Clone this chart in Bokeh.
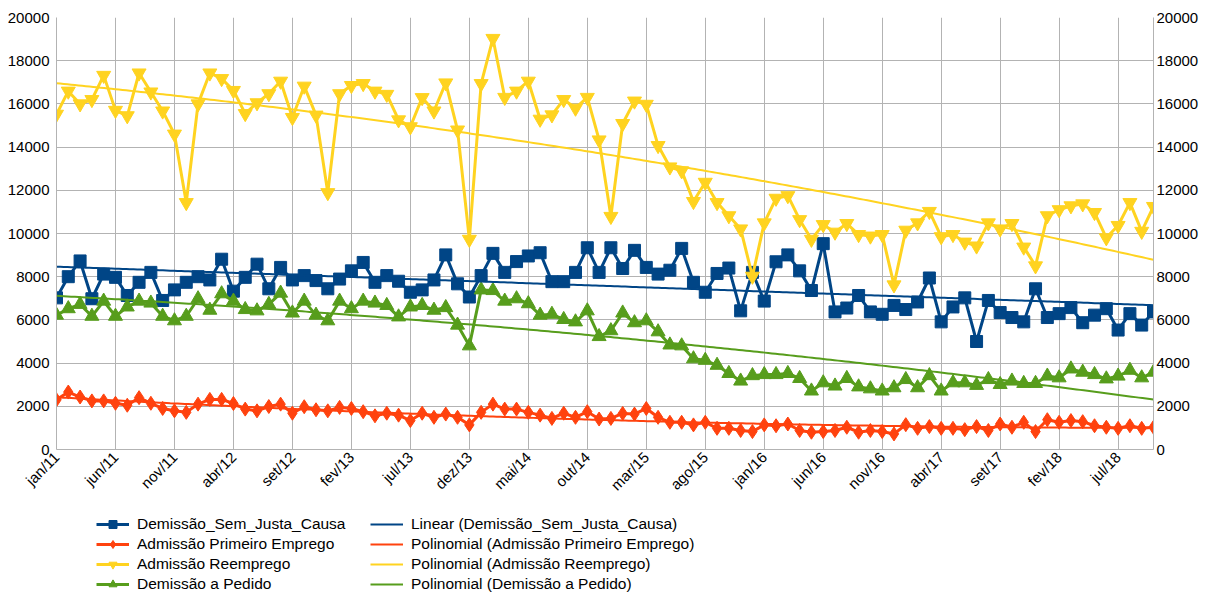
import math
import numpy as np
from bokeh.plotting import figure
from bokeh.layouts import column
from bokeh.models import Range1d, LinearAxis, FixedTicker, Legend, LegendItem
from bokeh.embed import file_html
from bokeh.resources import INLINE

# ---------------- data ----------------
tick_idx = [0, 5, 10, 15, 20, 25, 30, 35, 40, 45, 50, 55, 60, 65, 70, 75, 80, 85, 90]
tick_labels = ["jan/11", "jun/11", "nov/11", "abr/12", "set/12", "fev/13", "jul/13",
               "dez/13", "mai/14", "out/14", "mar/15", "ago/15", "jan/16", "jun/16",
               "nov/16", "abr/17", "set/17", "fev/18", "jul/18"]

demissao_sem_justa_causa = [
    7020, 8000, 8730, 6980, 8120, 7970, 7130, 7740, 8200, 6900, 7390, 7740, 8000, 7850, 8810, 7330,
    7970, 8580, 7440, 8430, 7850, 8050, 7820, 7440, 7890, 8270, 8660, 7740, 8050, 7790, 7280, 7390,
    7850, 9010, 7670, 7060, 8050, 9080, 8200, 8700, 8960, 9110, 7770, 7770, 8200, 9340, 8200,
    9340, 8380, 9220, 8430, 8120, 8300, 9310, 7740, 7280, 8150, 8400, 6420, 8200, 6870, 8690, 9010,
    8270, 7360, 9530, 6370, 6550, 7130, 6370, 6260, 6670, 6480, 6830, 7940, 5910, 6600, 7020, 5000,
    6900, 6340, 6110, 5910, 7440, 6110, 6290, 6570, 5870, 6220, 6520, 5530, 6290, 5760, 6370]

admissao_primeiro_emprego = [
    2300, 2660, 2430, 2250, 2250, 2140, 2050, 2400, 2140, 1900, 1790, 1720, 2100, 2320, 2320, 2130,
    1870, 1790, 1990, 2100, 1680, 1980, 1840, 1790, 1950, 1900, 1750, 1560, 1680, 1590, 1340,
    1680, 1490, 1640, 1490, 1140, 1720, 2100, 1870, 1870, 1720, 1590, 1440, 1680, 1490, 1750, 1410,
    1440, 1670, 1640, 1900, 1490, 1260, 1260, 1140, 1260, 980, 980, 880, 830, 1140, 1100, 1180,
    880, 800, 830, 880, 1030, 800, 880, 830, 720, 1150, 980, 1060, 980, 980, 920, 1060,
    880, 1180, 1030, 1260, 830, 1380, 1260, 1340, 1290, 1100, 1030, 980, 1100, 980, 1030]

admissao_reemprego = [
    15520, 16590, 16000, 16200, 17320, 15700, 15450, 17430, 16550, 15670, 14600, 11430, 16000, 17430, 17170, 16620,
    15550, 16050, 16470, 17050, 15370, 16820, 15480, 11890, 16470, 16850, 16940, 16590, 16440, 15260, 14940, 16290,
    15670, 16970, 14790, 9730, 16940, 19030, 16300, 16590, 17050, 15290, 15490, 16200, 15800, 16300, 14330,
    10790, 15090, 16130, 15980, 14070, 13080, 12900, 11480, 12370, 11430, 10820, 10210, 8020, 10490, 11630, 11750,
    10640, 9730, 10410, 10060, 10460, 9950, 9880, 9950, 7620, 10150, 10490, 11020, 9850, 9950, 9600,
    9420, 10490, 10210, 10460, 9370, 8500, 10820, 11100, 11280, 11370, 10970, 9800, 10370, 11430, 10100, 11250]

demissao_a_pedido = [
    6220, 6520, 6720, 6170, 6870, 6170, 6600, 6870, 6780, 6170, 5960, 6170, 6980, 6450, 7210, 6870,
    6480, 6420, 6720, 7240, 6320, 6870, 6220, 5960, 6870, 6520, 6870, 6780, 6670, 6140, 6600, 6670,
    6450, 6570, 5760, 4800, 7390, 7360, 6870, 6980, 6750, 6220, 6260, 6020, 5910, 6420, 5230,
    5500, 6320, 5870, 5960, 5450, 4840, 4800, 4200, 4130, 3900, 3520, 3170, 3420, 3470, 3470, 3520,
    3290, 2710, 3090, 2940, 3290, 2900, 2810, 2710, 2860, 3240, 2860, 3420, 2710, 3090, 3090, 2970,
    3240, 3010, 3170, 3060, 3060, 3400, 3320, 3730, 3580, 3470, 3270, 3400, 3670, 3320, 3580]

y_ticks = list(range(0, 20001, 2000))

BLUE = "#004586"
RED = "#ff420e"
YELLOW = "#ffd320"
GREEN = "#579d1c"
GRID = "#b3b3b3"
FONT = "Liberation Sans"

n = len(demissao_sem_justa_causa)
x = list(range(n))

p = figure(width=1201, height=502, output_backend="svg", toolbar_location=None,
           x_range=Range1d(0, n - 1), y_range=Range1d(0, 20000),
           min_border_left=56, min_border_right=45, min_border_top=17, min_border_bottom=48)
p.outline_line_color = None
p.background_fill_color = "white"

# grids
p.xgrid.ticker = FixedTicker(ticks=tick_idx)
p.ygrid.ticker = FixedTicker(ticks=y_ticks)
for g in (p.xgrid, p.ygrid):
    g.grid_line_color = GRID
    g.grid_line_width = 1

# axes
p.xaxis.ticker = FixedTicker(ticks=tick_idx)
p.xaxis.major_label_overrides = {i: l for i, l in zip(tick_idx, tick_labels)}
p.xaxis.major_label_orientation = math.pi / 4
p.yaxis.ticker = FixedTicker(ticks=y_ticks)
p.yaxis.major_label_overrides = {v: str(v) for v in y_ticks}

right = LinearAxis(ticker=FixedTicker(ticks=y_ticks))
right.major_label_overrides = {v: str(v) for v in y_ticks}
p.add_layout(right, "right")

for ax in p.axis:
    ax.axis_line_color = GRID
    ax.axis_line_width = 1
    ax.major_tick_out = 0
    ax.major_tick_in = 0
    ax.minor_tick_out = 0
    ax.minor_tick_in = 0
    ax.major_label_text_font = FONT
    ax.major_label_text_font_size = "15px"
    ax.major_label_text_color = "black"
p.yaxis[0].major_label_standoff = 7
right.major_label_standoff = 3
p.xaxis.major_label_standoff = 5

# series
p.line(x, demissao_sem_justa_causa, line_color=BLUE, line_width=3)
p.scatter(x, demissao_sem_justa_causa, marker="square", size=12, color=BLUE)
p.line(x, admissao_primeiro_emprego, line_color=RED, line_width=3)
p.scatter(x, admissao_primeiro_emprego, marker="diamond", size=14, color=RED)
p.line(x, admissao_reemprego, line_color=YELLOW, line_width=3)
p.scatter(x, admissao_reemprego, marker="inverted_triangle", size=14, color=YELLOW)
p.line(x, demissao_a_pedido, line_color=GREEN, line_width=3)
p.scatter(x, demissao_a_pedido, marker="triangle", size=14, color=GREEN)

# trend lines (fits of the data, as in the spreadsheet)
xs = np.linspace(0, n - 1, 300)
def trend(vals, deg):
    c = np.polyfit(np.array(x, dtype=float), np.array(vals, dtype=float), deg)
    return np.polyval(c, xs)

p.line(xs, trend(demissao_sem_justa_causa, 1), line_color=BLUE, line_width=2)
p.line(xs, trend(admissao_primeiro_emprego, 2), line_color=RED, line_width=2)
p.line(xs, trend(admissao_reemprego, 2), line_color=YELLOW, line_width=2)
p.line(xs, trend(demissao_a_pedido, 2), line_color=GREEN, line_width=2)

# ---------------- legend strip ----------------
lf = figure(width=1201, height=92, output_backend="svg", toolbar_location=None,
            x_range=Range1d(0, 1), y_range=Range1d(0, 1),
            x_axis_type=None, y_axis_type=None, min_border=0)
lf.outline_line_color = None
lf.grid.visible = False

def sample(color, marker=None, size=12, width=3):
    rs = [lf.line([-5, -4], [-5, -4], line_color=color, line_width=width)]
    if marker:
        rs.append(lf.scatter([-5], [-5], marker=marker, size=size, color=color))
    return rs

def make_legend(items, loc):
    lg = Legend(items=items, location=loc, orientation="vertical")
    lg.glyph_width = 33
    lg.glyph_height = 20
    lg.label_height = 20
    lg.label_standoff = 8
    lg.spacing = 0
    lg.padding = 0
    lg.margin = 0
    lg.border_line_color = None
    lg.background_fill_alpha = 0
    lg.label_text_font = FONT
    lg.label_text_font_size = "15.5px"
    lg.label_text_color = "black"
    return lg

leg1 = make_legend([
    LegendItem(label="Demissão_Sem_Justa_Causa", renderers=sample(BLUE, "square")),
    LegendItem(label="Admissão Primeiro Emprego", renderers=sample(RED, "diamond")),
    LegendItem(label="Admissão Reemprego", renderers=sample(YELLOW, "inverted_triangle")),
    LegendItem(label="Demissão a Pedido", renderers=sample(GREEN, "triangle")),
], (40, 0))
leg2 = make_legend([
    LegendItem(label="Linear (Demissão_Sem_Justa_Causa)", renderers=sample(BLUE, width=2)),
    LegendItem(label="Polinomial (Admissão Primeiro Emprego)", renderers=sample(RED, width=2)),
    LegendItem(label="Polinomial (Admissão Reemprego)", renderers=sample(YELLOW, width=2)),
    LegendItem(label="Polinomial (Demissão a Pedido)", renderers=sample(GREEN, width=2)),
], (314, 0))
lf.add_layout(leg1)
lf.add_layout(leg2)

layout = column(p, lf, spacing=0)
open("out.html", "w").write(file_html(layout, INLINE))
